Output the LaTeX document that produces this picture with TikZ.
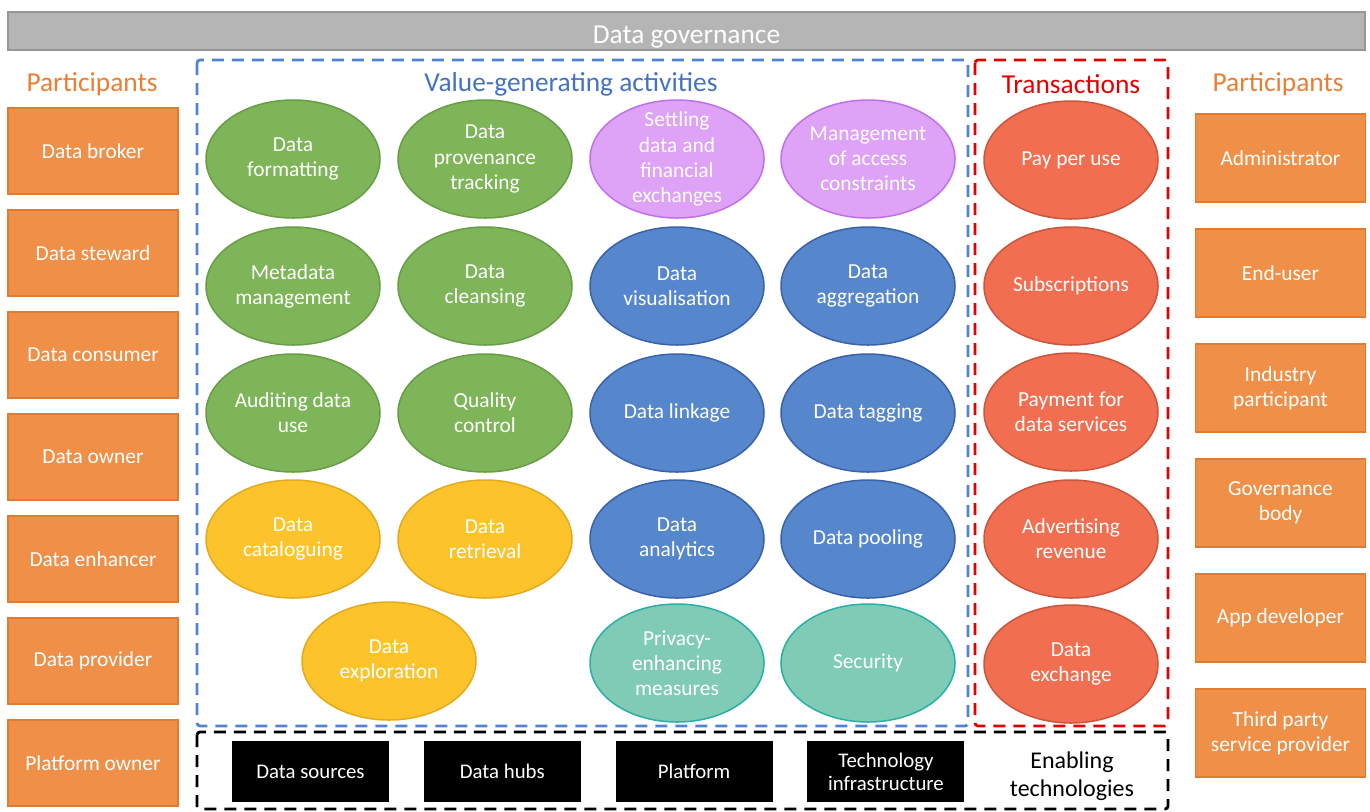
\documentclass[tikz,border=0pt]{standalone}
\usepackage{fontspec}
\setmainfont{Carlito}
\usepackage{xcolor}
\usetikzlibrary{shapes,positioning}

\definecolor{govgray}{RGB}{181,181,181}
\definecolor{partorange}{RGB}{240,144,72}
\definecolor{partline}{RGB}{226,122,48}
\definecolor{titleorange}{RGB}{237,125,49}
\definecolor{titleblue}{RGB}{68,114,196}
\definecolor{frameblue}{RGB}{80,132,210}
\definecolor{actgreen}{RGB}{126,181,89}
\definecolor{actgreenline}{RGB}{104,156,70}
\definecolor{actpurple}{RGB}{222,162,246}
\definecolor{actpurpleline}{RGB}{192,112,236}
\definecolor{actblue}{RGB}{86,135,205}
\definecolor{actblueline}{RGB}{58,98,168}
\definecolor{actyellow}{RGB}{252,196,42}
\definecolor{actyellowline}{RGB}{228,170,30}
\definecolor{actteal}{RGB}{128,203,181}
\definecolor{acttealline}{RGB}{38,176,166}
\definecolor{transred}{RGB}{241,110,80}
\definecolor{transredline}{RGB}{202,86,62}

\begin{document}
\begin{tikzpicture}[x=0.5pt, y=-0.5pt,
    part/.style={rectangle, draw=partline, fill=partorange, line width=0.6pt, minimum width=85pt, text=white, align=center, font={\fontsize{10.7}{12.6}\selectfont}},
    oval/.style={ellipse, line width=0.75pt, minimum width=87pt, minimum height=59pt, inner sep=0pt, align=center, text=white, font={\fontsize{10.7}{12.6}\selectfont}},
    green/.style={oval, draw=actgreenline, fill=actgreen},
    purple/.style={oval, draw=actpurpleline, fill=actpurple},
    blue/.style={oval, draw=actblueline, fill=actblue},
    yellow/.style={oval, draw=actyellowline, fill=actyellow},
    teal/.style={oval, draw=acttealline, fill=actteal},
    trans/.style={oval, draw=transredline, fill=transred},
    tech/.style={rectangle, fill=black, minimum width=78.5pt, minimum height=30.5pt, inner sep=1pt, text=white, align=center, font={\fontsize{10.4}{11.6}\selectfont}},
    heading/.style={font={\fontsize{13.7}{16}\selectfont}},
    frame/.style={dashed, dash pattern=on 6pt off 4pt, line width=1.4pt, rounded corners=1.5pt}]

    \useasboundingbox (0,0) rectangle (1370,811);

    % governance bar
    \node[rectangle, draw={rgb,255:red,150;green,150;blue,150}, fill=govgray, line width=0.6pt, minimum width=678.5pt, minimum height=19pt, inner ysep=0pt, text height=12pt, text depth=0pt, text=white, heading] (gov) at (686.5,31) {Data governance};

    % frames
    \draw[frame, frameblue] (197,60) rectangle (968,726);
    \draw[frame, red!90!black] (975,60) rectangle (1168,726);
    \draw[frame, black] (197,732) rectangle (1168,809);

    % headings
    \node[heading, text=titleorange] (lefttitle) at (92,84) {Participants};
    \node[heading, text=titleblue] (valtitle) at (571,84) {Value-generating activities};
    \node[heading, text=red!90!black] (transtitle) at (1071,84) {Transactions};
    \node[heading, text=titleorange] (righttitle) at (1278,84) {Participants};

    % participants, left
    \node[part, minimum height=43pt] (broker) at (93,151) {Data broker};
    \node[part, minimum height=43pt, below=7.4pt of broker] (steward) {Data steward};
    \node[part, minimum height=43pt, below=7.4pt of steward] (consumer) {Data consumer};
    \node[part, minimum height=43pt, below=7.4pt of consumer] (owner) {Data owner};
    \node[part, minimum height=43pt, below=7.4pt of owner] (enhancer) {Data enhancer};
    \node[part, minimum height=43pt, below=7.4pt of enhancer] (provider) {Data provider};
    \node[part, minimum height=43pt, below=7.4pt of provider] (platowner) {Platform owner};

    % participants, right
    \node[part, minimum height=44pt] (admin) at (1280.5,158) {Administrator};
    \node[part, minimum height=44pt, below=12.9pt of admin] (enduser) {End-user};
    \node[part, minimum height=44pt, below=12.9pt of enduser] (industry) {Industry\\participant};
    \node[part, minimum height=44pt, below=12.9pt of industry] (govbody) {Governance\\body};
    \node[part, minimum height=44pt, below=12.9pt of govbody] (appdev) {App developer};
    \node[part, minimum height=44pt, below=12.9pt of appdev] (thirdparty) {Third party\\service provider};

    % value-generating activities
    \node[green] (formatting) at (293,159) {Data\\formatting};
    \node[green] (provenance) at (485,159) {Data\\provenance\\tracking};
    \node[purple, inner ysep=-6pt] (settling) at (677,159) {Settling\\data and\\financial\\exchanges};
    \node[purple] (access) at (868,159) {Management\\of access\\constraints};

    \node[green] (metadata) at (293,286) {Metadata\\management};
    \node[green] (cleansing) at (485,286) {Data\\cleansing};
    \node[blue] (visual) at (677,286) {Data\\visualisation};
    \node[blue] (aggregation) at (868,286) {Data\\aggregation};

    \node[green] (auditing) at (293,413) {Auditing data\\use};
    \node[green] (quality) at (485,413) {Quality\\control};
    \node[blue] (linkage) at (677,413) {Data linkage};
    \node[blue] (tagging) at (868,413) {Data tagging};

    \node[yellow] (catalogue) at (293,539) {Data\\cataloguing};
    \node[yellow] (retrieval) at (485,539) {Data\\retrieval};
    \node[blue] (analytics) at (677,539) {Data\\analytics};
    \node[blue] (pooling) at (868,539) {Data pooling};

    \node[yellow] (exploration) at (389,661) {Data\\exploration};
    \node[teal] (privacy) at (677,663) {Privacy-\\enhancing\\measures};
    \node[teal] (security) at (868,663) {Security};

    % transactions
    \node[trans] (payuse) at (1071,160) {Pay per use};
    \node[trans] (subscr) at (1071,286) {Subscriptions};
    \node[trans] (payserv) at (1071,412) {Payment for\\data services};
    \node[trans] (advert) at (1071,539) {Advertising\\revenue};
    \node[trans] (exchange) at (1071,664) {Data\\exchange};

    % enabling technologies
    \node[tech] (sources) at (310.5,771.5) {Data sources};
    \node[tech, right=17pt of sources] (hubs) {Data hubs};
    \node[tech, right=17pt of hubs] (platform) {Platform};
    \node[tech, right=17pt of platform] (infra) {Technology\\infrastructure};
    \node[align=center, font={\fontsize{12}{14}\selectfont}] (enabling) at (1072,776) {Enabling\\technologies};

\end{tikzpicture}
\end{document}
